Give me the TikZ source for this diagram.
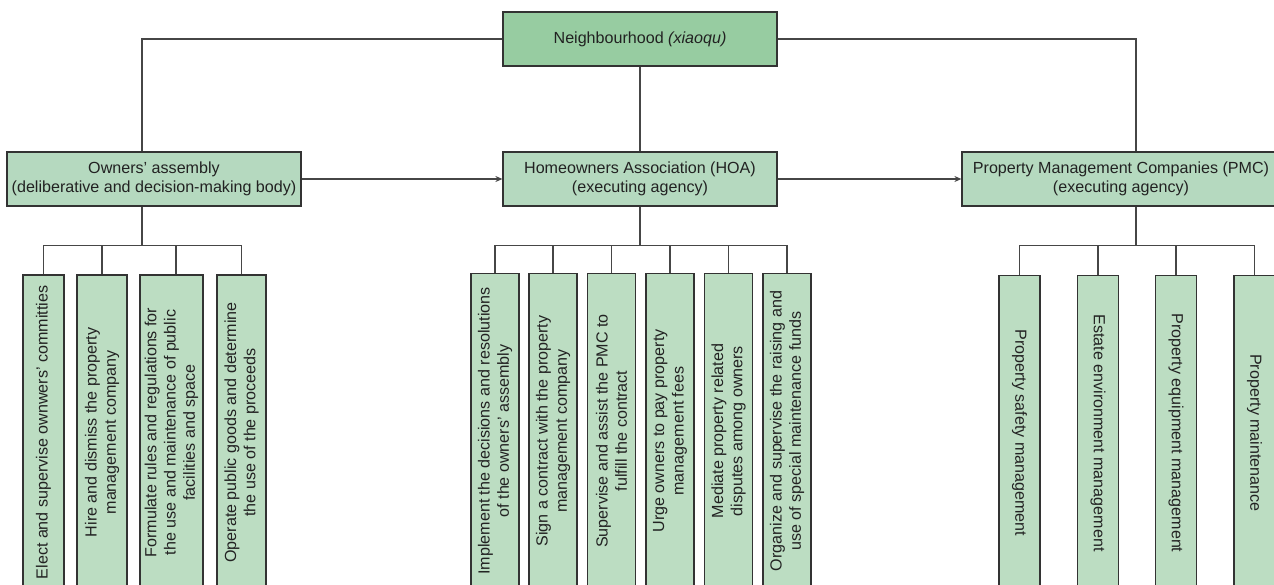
\documentclass[tikz,border=0pt]{standalone}
\usepackage{fontspec}
\setmainfont{Liberation Sans}
\usetikzlibrary{arrows.meta}
\definecolor{topgreen}{RGB}{151,204,161}
\definecolor{midgreen}{RGB}{181,217,191}
\definecolor{kidgreen}{RGB}{188,221,194}
\definecolor{edgecol}{RGB}{51,51,51}
\definecolor{wirecol}{RGB}{70,70,70}
\definecolor{inkcol}{RGB}{34,34,34}
\begin{document}
\begin{tikzpicture}[x=1pt,y=-1pt,
  box/.style={draw=edgecol, line width=1.2pt, fill=midgreen, text=inkcol, minimum height=54pt, inner sep=0pt, align=center, font=\fontsize{16.1}{19}\selectfont},
  kid/.style={draw=edgecol, line width=1.2pt, fill=kidgreen, text=inkcol, minimum width=315pt, inner sep=0pt, align=center, font=\fontsize{16.1}{19.3}\selectfont},
  wire/.style={draw=wirecol, line width=1.1pt},
  flow/.style={wire, -{Stealth[length=7pt,width=6pt]}}]
\clip (0,0) rectangle (1274,585);
\fill[white] (0,0) rectangle (1274,585);

% main boxes
\node[box, fill=topgreen, minimum width=274pt] (nb) at (640,39) {Neighbourhood \textit{(xiaoqu)}};
\node[box, minimum width=294pt] (oa) at (154,179) {Owners’ assembly\\(deliberative and decision-making body)};
\node[box, minimum width=274pt] (hoa) at (640,179) {Homeowners Association (HOA)\\(executing agency)};
\node[box, minimum width=318pt] (pmc) at (1121,179) {Property Management Companies (PMC)\\(executing agency)};

% owners' assembly tasks
\node[kid, rotate=90, minimum height=41pt] (c1) at (43.5,432.5) {Elect and supervise ownwers’ committies};
\node[kid, rotate=90, minimum height=50pt] (c2) at (102,432.5) {Hire and dismiss the property\\management company};
\node[kid, rotate=90, minimum height=63pt] (c3) at (171.5,432.5) {Formulate rules and regulations for\\the use and maintenance of public\\facilities and space};
\node[kid, rotate=90, minimum height=49pt] (c4) at (241.5,432.5) {Operate public goods and determine\\the use of the proceeds};

% HOA tasks
\node[kid, rotate=90, minimum height=48pt] (h1) at (495,431) {Implement the decisions and resolutions\\of the owners’ assembly};
\node[kid, rotate=90, minimum height=48pt] (h2) at (553,431) {Sign a contract with the property\\management company};
\node[kid, rotate=90, minimum height=48pt] (h3) at (611.5,431) {Supervise and assist the PMC to\\fulfill the contract};
\node[kid, rotate=90, minimum height=48pt] (h4) at (670,431) {Urge owners to pay property\\management fees};
\node[kid, rotate=90, minimum height=48pt] (h5) at (728.5,431) {Mediate property related\\disputes among owners};
\node[kid, rotate=90, minimum height=48pt] (h6) at (787,431) {Organize and supervise the raising and\\use of special maintenance funds};

% PMC tasks
\node[kid, rotate=-90, minimum height=41pt] (r1) at (1019.5,433) {Property safety management};
\node[kid, rotate=-90, minimum height=41pt] (r2) at (1098,433) {Estate environment management};
\node[kid, rotate=-90, minimum height=41pt] (r3) at (1176,433) {Property equipment management};
\node[kid, rotate=-90, minimum height=41pt] (r4) at (1254.5,433) {Property maintenance};

% top connectors
\draw[wire] (nb.west) -| ([xshift=-12pt]oa.north);
\draw[wire] (nb.south) -- (hoa.north);
\draw[wire] (nb.east) -| ([xshift=15pt]pmc.north);
\draw[flow] (oa.east) -- (hoa.west);
\draw[flow] (hoa.east) -- (pmc.west);

% tree connectors
\coordinate (ob) at ([xshift=-12pt]oa.south);
\foreach \k in {c1,c2,c4} \draw[wire] (ob) -- ++(0,39) -| (\k.east);
\draw[wire] (ob) -- ++(0,39) -| ([xshift=4.5pt]c3.east);
\foreach \k in {h1,h2,h3,h4,h5,h6} \draw[wire] (hoa.south) -- ++(0,39) -| (\k.east);
\coordinate (pb) at ([xshift=15pt]pmc.south);
\foreach \k in {r1,r2,r3,r4} \draw[wire] (pb) -- ++(0,39) -| (\k.west);
\end{tikzpicture}
\end{document}
